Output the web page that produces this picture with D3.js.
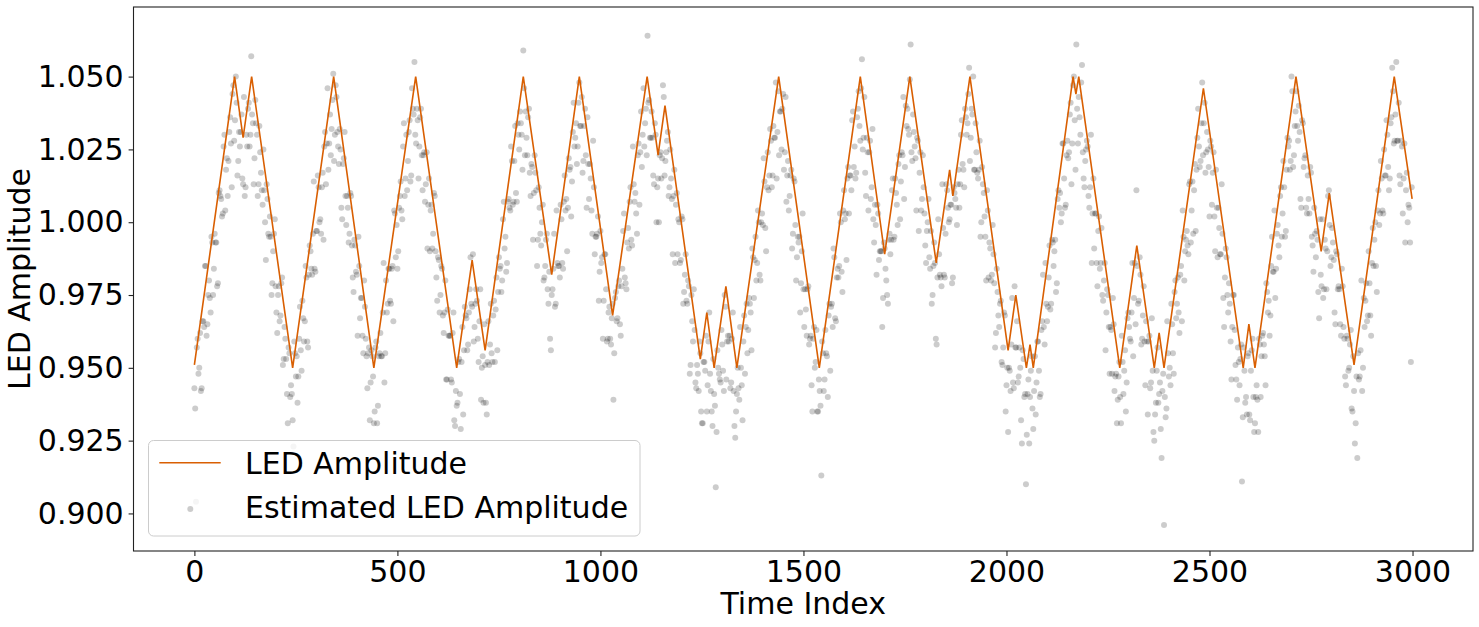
<!DOCTYPE html>
<html>
<head>
<meta charset="utf-8">
<script src="https://cdn.jsdelivr.net/npm/d3@7"></script>
<style>
  body { margin: 0; background: #fff; }
  svg { display: block; font-family: 'DejaVu Sans', sans-serif; }
</style>
</head>
<body>
<svg id="chart" width="1479" height="627"></svg>
<script>
// corner points of the true LED amplitude (time index / amplitude)
const ledTimes = [0, 99, 120, 141, 242, 343, 442, 545, 646, 684, 716, 810, 880, 948, 1030,
    1115, 1142, 1159, 1246, 1262, 1280, 1309, 1336, 1439, 1539, 1640, 1700, 1762, 1827,
    1860, 1868, 1910, 2004, 2023, 2049, 2058, 2066, 2164, 2171, 2178, 2279, 2321, 2364,
    2376, 2388, 2485, 2583, 2597, 2612, 2713, 2775, 2795, 2856, 2955, 2999];
const ledValues = [0.951, 1.05, 1.029, 1.05, 0.95, 1.05, 0.95, 1.05, 0.95, 0.987, 0.956, 1.05, 0.982, 1.05, 0.968,
    1.05, 1.023, 1.04, 0.953, 0.969, 0.95, 0.978, 0.95, 1.05, 0.95, 1.05, 0.989, 1.05, 0.986,
    1.018, 1.009, 1.05, 0.956, 0.975, 0.95, 0.958, 0.95, 1.05, 1.044, 1.05, 0.95, 0.992, 0.95,
    0.962, 0.95, 1.046, 0.95, 0.965, 0.95, 1.05, 0.99, 1.01, 0.951, 1.05, 1.008];

// estimated amplitude: samples at time index 0, 4, 8, ...
const estStep = 4;
const estValuesA = [
    .943,.904,.960,.950,.942,.966,.964,.985,.965,.980,.969,.993,.984,.993,.978,1.010,1.009,1.002,1.026,1.004,1.022,1.021,1.036,1.012,1.047,
    1.035,1.041,1.021,1.026,1.037,1.013,1.009,1.030,1.039,1.026,1.057,
    1.034,1.022,1.034,1.009,1.033,1.017,1.006,1.011,.987,1.008,.995,.995,.979,.996,.978,.962,.978,.968,.981,.953,.960,.941,.957,.940,.941,
    .923,.955,.954,.947,.971,.949,.967,.966,.981,.957,.992,.984,.996,.984,.997,1.016,1.000,.996,1.017,1.026,1.013,1.046,1.027,1.023,1.042,
    1.021,1.047,1.031,1.020,1.025,1.001,1.022,1.009,1.009,.993,1.010,.992,.976,.992,.982,.995,.967,.974,.955,.971,.954,.955,.932,.956,.947,
    .935,.959,.937,.955,.954,.969,.945,.980,.972,.984,.972,.985,1.004,.988,.984,1.005,1.014,1.001,1.034,1.015,1.011,1.031,1.014,1.046,1.037,1.030,
    1.039,1.015,1.036,1.023,1.023,1.007,1.024,1.006,.990,1.006,.996,1.009,.981,.988,.969,.985,.968,.969,.946,.970,.961,.946,.962,.932,.942,
    .938,.953,.929,.964,.956,.968,.956,.969,.988,.971,.959,.972,.973,.952,.977,.950,.938,.951,
    .934,.966,.958,.955,.968,.952,.981,.976,.984,.976,1.001,.991,.983,1.007,1.005,1.026,1.006,1.021,1.010,1.034,1.025,1.034,1.018,
    1.046,1.038,1.023,1.039,1.009,1.019,1.010,1.017,.985,1.012,.996,1.000,.980,.985,.996,.972,.960,.975,
    .984,.971,1.004,.985,.981,1.001,.984,1.016,1.008,1.005,1.018,1.002,1.031,1.026,1.034,1.026,1.048,
    1.033,1.017,1.033,1.023,1.036,1.008,1.015,.996,1.012,.995,.996,.973,.997,.988,.973,.989,.959,.969,.960,.967,
    .939,.974,.966,.978,.965,.978,.997,.981,.977,.998,1.007,.994,1.026,1.007,1.003,1.023,1.006,1.038,1.030,1.026,1.039,
    1.064,1.042,1.029,1.029,1.013,1.030,1.012,1.000,1.024,1.022,1.043,1.021,1.028,1.009,1.025,1.008,1.009,.986,1.010,1.001,
    .986,1.002,.972,.982,.973,.980,.948,.975,.959,.963,.943,.948,.959,
    .935,.931,.952,.961,.944,.969,.942,.930,.941,.909,.956,.948,.945,.958,.942,.971,.959,.959,.943,.960,.942,.926,.941,
    .943,.964,.944,.959,.948,.972,.963,.972,.956,.988,.987,.980,1.004,.982,1.000,.999,1.014,.990,1.024,1.016,1.028,1.016,1.029,1.048,1.031,
    1.023,1.038,1.039,1.018,1.043,1.016,1.004,1.016,.991,1.015,.999,.988,.993,.969,.990,.977,.977,.961,.978,.960,.944,.960,.950,.963,.935,
    .942,.913,.955,.946,.955,.940,.972,.971,.964,.988,.966,.984,.985,1.000,.976,1.011,1.003,1.015,1.003,1.016,1.035,1.019,1.015,1.036,1.045,
    1.028,1.056,1.029,1.017,1.029,1.004,1.028,1.012,1.001,1.006,.982,1.003,.990,.990,.974,.991,.980,.972,.996,.994,
    1.015,.995,1.010,.999,1.023,1.014,1.023,1.008,1.040,1.039,1.030,
    1.061,1.021,1.031,1.022,1.029,.997,1.024,1.008,1.012,.992,.997,1.008,.984,.972,.985,.986,.958,1.001,.982,.978,
    .998,.981,1.013,1.005,1.001,1.006,.981,1.010,1.005,1.013,1.005,1.030,1.020,1.012,1.036,1.034,1.053,
    1.029,1.037,1.018,1.034,1.017,1.018,.995,1.019,1.010,.995,1.011,.981,.991,.982,.989,.957,.984,.968,.972,.952,.957,.968,.944,
    .928,.949,.958,.945,.978,.957,.945,.957,.932,.956,.940,.910,.941,.924,.949,.936,
    .942,.934,.959,.949,.941,.966,.964,.986,.966,.981,.970,.994,.985,.994,.979,1.011,1.010,1.003,1.027,1.005,1.023,1.022,1.037,1.013,
    1.047,1.035,1.061,1.027,1.036,1.048,1.024,1.012,1.025,1.026,1.005,1.030,1.003,.991,1.003,.978,1.002,.986,.975,.980,
    .956,.977,.964,.964,.948,.965,.947,.931,.947,
    .940,.961,.941,.956,.945,.969,.960,.969,.954,.986,1.011,.972,.988,.958,.968,.959,.966,.934,.961,.945,.949,.925,.938,.957,.941,.929,.942,.896,
    .933,.966,.947,.944,.965,.948,.980,.972,.969,.982,.966,.995,.990,.997,.989,1.014,1.004,.996,1.020,1.018,1.039,1.019,1.034,1.023,
    1.041,1.024,1.025,1.002,1.026,1.017,1.002,1.018,.988,.998,.989,.996,.964,.991,.975,.979,.959,.964,.975,.951,.939,.952,.953,.911,
    .957,.938,.934,.955,.932,.956,.940,
    .931,.944,.928,.958,.954,.962,.954,.979,.969,.961,.985,.983,1.004,.984,.999,.988,1.012,1.003,1.012,.997,1.029,1.028,1.021,1.045,1.023,1.038,
    1.033,1.040,1.008,1.035,1.019,1.023,1.003,1.008,1.019,.995,.983,.996,.997,.976,1.001,.978,.974,.994,.977,1.009,
    .999,.988,.993,.969,.990,.977,.977,.961,.978,.960,.944,.960,.950,.963,.935,
    .942,.931,.919,.946,.956,.942,.974,.973,.966,.990,.968,.986,.985,1.000,.976,1.011,1.003,1.015,1.003,1.016,1.035,1.019,1.015,1.036,1.045,
    1.028,1.055,1.028,1.016,1.028,1.003,1.027,1.011,1.000,1.005,.952
];
// estimated amplitude: samples at time index 2, 6, 10, ...
const estValuesB = [
    .936,.957,.948,.962,.943,.966,.985,.961,.975,.974,.995,.975,.996,.993,.979,1.011,1.008,1.003,1.030,1.018,1.009,1.031,1.027,1.044,1.028,
    1.050,1.016,1.031,1.031,1.015,1.043,1.012,1.026,1.041,1.030,1.037,
    1.013,1.042,1.030,1.013,1.024,1.011,1.025,1.000,1.013,.996,1.002,.975,.990,1.001,.969,.975,.966,.979,.951,.964,.953,.931,.955,.944,.932,
    .959,.947,.938,.960,.956,.973,.959,.985,.959,.982,.990,.982,1.014,.983,.997,1.012,1.001,1.012,.994,1.031,1.027,1.018,1.037,1.032,1.051,
    1.030,1.043,1.026,1.032,1.005,1.020,1.031,.999,1.005,.996,1.009,.981,.994,.983,.961,.985,.974,.961,.980,.960,.943,.957,.945,.954,.931,
    .957,.931,.954,.962,.954,.986,.955,.969,.984,.973,.984,.966,1.003,.999,.990,1.009,1.004,1.026,1.009,1.030,1.021,1.035,1.016,1.039,1.055,1.027,
    1.035,1.026,1.039,1.011,1.024,1.013,.991,1.015,1.004,.991,1.010,.990,.973,.987,.975,.984,.962,.980,.946,.961,.961,.945,.969,.930,.937,
    .952,.941,.952,.934,.971,.967,.958,.977,.972,.989,.964,.977,.960,.966,.939,.954,.965,.938,
    .952,.951,.972,.952,.973,.970,.956,.988,.985,.980,1.007,.995,.986,1.008,1.004,1.021,1.007,1.033,1.007,1.030,1.038,1.030,1.059,
    1.023,1.029,1.036,1.017,1.020,.994,1.023,1.011,.994,1.005,.992,1.006,.981,.994,.977,.983,.956,.977,
    .996,.972,.986,.985,1.006,.986,1.007,1.004,.990,1.022,1.019,1.014,1.041,1.029,1.020,1.041,1.033,
    1.043,1.021,1.039,1.005,1.020,1.020,1.004,1.028,.989,.995,1.002,.983,.986,.960,.989,.977,.960,.971,.958,.972,
    .955,.976,.967,.980,.961,.984,1.003,.979,.993,.991,1.012,.992,1.013,1.010,.996,1.027,1.024,1.019,1.046,1.034,1.023,
    1.041,1.029,1.038,1.016,1.034,1.000,1.015,1.023,1.015,1.047,1.016,1.024,1.031,1.012,1.015,.989,1.018,1.006,.989,1.000,
    .987,1.001,.976,.989,.972,.978,.951,.966,.977,.945,.951,.942,.955,
    .931,.952,.949,.935,.959,.948,.935,.953,.937,.928,.950,.946,.963,.949,.975,.946,.961,.961,.945,.969,.930,.935,.950,
    .939,.950,.932,.968,.964,.955,.974,.969,.991,.974,.995,.986,1.000,.980,1.003,1.022,.998,1.012,1.011,1.032,1.012,1.033,1.029,1.015,1.045,
    1.038,1.025,1.044,1.024,1.007,1.021,1.009,1.018,.996,1.014,.980,.995,.995,.979,1.003,.964,.970,.977,.958,.961,.935,.964,.952,.935,.946,
    .937,.959,.942,.963,.954,.968,.949,.972,.991,.967,.981,.981,1.003,.983,1.004,1.001,.987,1.019,1.016,1.011,1.038,1.026,1.017,1.039,1.033,
    1.046,1.025,1.043,1.009,1.024,1.024,1.008,1.032,.993,.999,1.006,.987,.990,.964,.993,.984,.975,.994,.989,1.011,
    .994,1.015,1.006,1.020,1.001,1.024,1.043,1.019,1.033,1.032,1.049,
    1.024,1.037,1.026,1.004,1.028,1.017,1.004,1.023,1.003,.986,1.000,.988,.997,.975,.993,.960,.981,.989,.981,1.013,
    .982,.996,1.011,1.000,1.006,.979,1.012,1.008,.999,1.018,1.013,1.035,1.018,1.039,1.030,1.044,1.021,
    1.039,1.050,1.018,1.024,1.015,1.028,1.000,1.013,1.002,.980,1.004,.993,.980,.999,.979,.962,.976,.964,.973,.951,.969,.935,.950,
    .950,.942,.974,.943,.957,.966,.947,.950,.924,.953,.941,.927,.946,.940,.954,.929,
    .954,.945,.959,.940,.963,.982,.958,.972,.971,.992,.972,.993,.990,.976,1.008,1.005,1.000,1.027,1.015,1.006,1.028,1.024,1.041,1.027,
    1.050,1.018,1.039,1.043,1.030,1.054,1.015,1.021,1.028,1.009,1.012,.986,1.015,1.003,.986,.997,.984,.998,.973,.986,
    .969,.975,.948,.963,.974,.942,.948,.939,.952,
    .931,.952,.949,.935,.967,.964,.959,.986,.974,.965,.985,.973,.982,.960,.978,.944,.959,.959,.943,.967,.928,.934,.949,.938,.945,.919,.948,.940,
    .936,.955,.950,.972,.955,.976,.967,.981,.962,.985,1.004,.980,.994,.992,1.013,.993,1.014,1.011,.997,1.029,1.026,1.021,1.048,1.034,
    1.017,1.031,1.019,1.028,1.006,1.024,.990,1.005,1.005,.989,1.013,.974,.981,.988,.969,.972,.946,.975,.963,.946,.957,.944,.958,.933,
    .949,.940,.954,.934,.949,.960,.928,
    .940,.939,.960,.940,.961,.958,.944,.976,.973,.968,.995,.983,.974,.996,.992,1.009,.995,1.021,.995,1.018,1.026,1.018,1.050,1.019,1.033,1.045,
    1.028,1.031,1.005,1.034,1.022,1.005,1.016,1.003,1.017,.992,1.005,.988,.994,.967,.982,1.001,.977,.991,.990,1.011,
    .985,.998,.987,.965,.989,.978,.965,.984,.964,.947,.961,.949,.958,.936,.954,
    .924,.947,.955,.947,.980,.950,.964,.979,.968,.979,.961,.998,.994,.985,1.004,.999,1.021,1.004,1.025,1.016,1.030,1.011,1.034,1.053,1.027,
    1.037,1.028,1.041,1.013,1.026,1.015,.993,1.017,1.006,.993,1.012
];

const xTicks = [0, 500, 1000, 1500, 2000, 2500, 3000];
const yTicks = [0.900, 0.925, 0.950, 0.975, 1.000, 1.025, 1.050];

const lineColor = '#d95f02';
const fontSize = '30px';

let svg = d3.select('#chart');
let plotLeft = 133.5, plotRight = 1473, plotTop = 7, plotBottom = 551;

let xScale = d3.scaleLinear().domain([-149.95, 3148.95]).range([plotLeft, plotRight]);
let yScale = d3.scaleLinear().domain([0.8871, 1.0739]).range([plotBottom, plotTop]);

let ledPoints = ledTimes.map((t, i) => [t, ledValues[i]]);
let estPoints = estValuesA.map((v, i) => [i * estStep, v])
    .concat(estValuesB.map((v, i) => [2 + i * estStep, v]));

// scatter first so the line sits on top (matplotlib zorder)
svg.append('g')
    .selectAll('circle')
    .data(estPoints)
    .enter()
    .append('circle')
    .attr('cx', d => xScale(d[0]))
    .attr('cy', d => yScale(d[1]))
    .attr('r', 3)
    .attr('fill', '#000')
    .attr('fill-opacity', 0.2);

let line = d3.line()
    .x(d => xScale(d[0]))
    .y(d => yScale(d[1]));

svg.append('path')
    .datum(ledPoints)
    .attr('d', line)
    .attr('fill', 'none')
    .attr('stroke', lineColor)
    .attr('stroke-width', 1.6)
    .attr('stroke-linejoin', 'miter');

// axes
let xAxis = d3.axisBottom(xScale)
    .tickValues(xTicks)
    .tickFormat(d3.format('d'))
    .tickSize(4.9)
    .tickPadding(4.9);

let yAxis = d3.axisLeft(yScale)
    .tickValues(yTicks)
    .tickFormat(d3.format('.3f'))
    .tickSize(4.9)
    .tickPadding(4.9);

let gx = svg.append('g')
    .attr('transform', `translate(0,${plotBottom})`)
    .call(xAxis);
let gy = svg.append('g')
    .attr('transform', `translate(${plotLeft},0)`)
    .call(yAxis);

[gx, gy].forEach(g => {
    g.select('.domain').remove();
    g.selectAll('line').attr('stroke', '#222').attr('stroke-width', 1.1);
    g.selectAll('text')
        .attr('fill', '#000')
        .style('font-family', "'DejaVu Sans', sans-serif")
        .style('font-size', fontSize);
});

// frame
svg.append('rect')
    .attr('x', plotLeft)
    .attr('y', plotTop)
    .attr('width', plotRight - plotLeft)
    .attr('height', plotBottom - plotTop)
    .attr('fill', 'none')
    .attr('stroke', '#222')
    .attr('stroke-width', 1.1);

// axis titles
svg.append('text')
    .attr('x', (plotLeft + plotRight) / 2)
    .attr('y', 614)
    .attr('text-anchor', 'middle')
    .style('font-size', fontSize)
    .text('Time Index');

svg.append('text')
    .attr('transform', `translate(30,${(plotTop + plotBottom) / 2}) rotate(-90)`)
    .attr('text-anchor', 'middle')
    .style('font-size', fontSize)
    .text('LED Amplitude');

// legend
let legend = svg.append('g');
legend.append('rect')
    .attr('x', 148.5)
    .attr('y', 440.5)
    .attr('width', 491.5)
    .attr('height', 95.5)
    .attr('rx', 5)
    .attr('fill', '#fff')
    .attr('fill-opacity', 0.8)
    .attr('stroke', '#cccccc')
    .attr('stroke-width', 1);

legend.append('line')
    .attr('x1', 159.3)
    .attr('x2', 220.7)
    .attr('y1', 462.7)
    .attr('y2', 462.7)
    .attr('stroke', lineColor)
    .attr('stroke-width', 1.6);

legend.append('circle')
    .attr('cx', 190.3)
    .attr('cy', 509)
    .attr('r', 3)
    .attr('fill', '#000')
    .attr('fill-opacity', 0.2);

legend.append('text')
    .attr('x', 245)
    .attr('y', 474)
    .style('font-size', fontSize)
    .text('LED Amplitude');

legend.append('text')
    .attr('x', 245)
    .attr('y', 518.3)
    .style('font-size', fontSize)
    .text('Estimated LED Amplitude');
</script>
</body>
</html>
